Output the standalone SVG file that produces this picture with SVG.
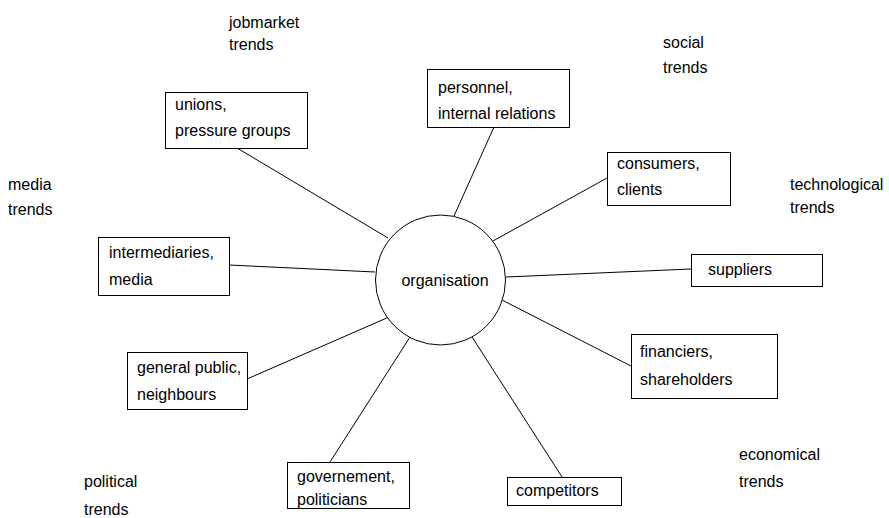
<svg xmlns="http://www.w3.org/2000/svg" width="889" height="518" viewBox="0 0 889 518">
<style>
text{font-family:"Liberation Sans",Arial,sans-serif;font-size:16px;fill:#000}
.box{fill:#fff;stroke:#000;stroke-width:1}
.conn line{stroke:#000;stroke-width:1}
</style>
<rect width="889" height="518" fill="#fff"/>
<g id="connectors" class="conn">
<line x1="237" y1="148" x2="388" y2="238"/>
<line x1="494" y1="127" x2="454" y2="216"/>
<line x1="607" y1="178" x2="493" y2="241"/>
<line x1="691" y1="269" x2="506" y2="277"/>
<line x1="631" y1="366" x2="502" y2="300"/>
<line x1="562" y1="477" x2="472" y2="337"/>
<line x1="330" y1="462" x2="410" y2="337"/>
<line x1="247" y1="379" x2="389" y2="317"/>
<line x1="229" y1="265" x2="375" y2="272"/>
</g>
<g id="organisation">
<circle cx="440.5" cy="280" r="65" fill="#fff" stroke="#000"/>
<text x="445" y="286" text-anchor="middle">organisation</text>
</g>
<g id="unions">
<rect class="box" x="165.5" y="92.5" width="142" height="56"/>
<text x="175" y="110">unions,</text>
<text x="175" y="136">pressure groups</text>
</g>
<g id="personnel">
<rect class="box" x="427.5" y="69.5" width="142" height="58"/>
<text x="438" y="93">personnel,</text>
<text x="438" y="119">internal relations</text>
</g>
<g id="consumers">
<rect class="box" x="607.5" y="152.5" width="123" height="53"/>
<text x="617" y="169">consumers,</text>
<text x="617" y="195">clients</text>
</g>
<g id="suppliers">
<rect class="box" x="691.5" y="254.5" width="131" height="32"/>
<text x="708" y="275">suppliers</text>
</g>
<g id="financiers">
<rect class="box" x="631.5" y="334.5" width="146" height="64"/>
<text x="640" y="357">financiers,</text>
<text x="640" y="385">shareholders</text>
</g>
<g id="competitors">
<rect class="box" x="507.5" y="477.5" width="114" height="28"/>
<text x="516" y="496">competitors</text>
</g>
<g id="governement">
<rect class="box" x="287.5" y="462.5" width="122" height="46"/>
<text x="297" y="482">governement,</text>
<text x="297" y="505">politicians</text>
</g>
<g id="general-public">
<rect class="box" x="127.5" y="352.5" width="120" height="57"/>
<text x="137" y="373">general public,</text>
<text x="137" y="400">neighbours</text>
</g>
<g id="intermediaries">
<rect class="box" x="98.5" y="237.5" width="131" height="58"/>
<text x="109" y="258">intermediaries,</text>
<text x="109" y="285">media</text>
</g>
<g id="trends">
<text x="229" y="28">jobmarket</text>
<text x="229" y="50">trends</text>
<text x="663" y="48">social</text>
<text x="663" y="73">trends</text>
<text x="8" y="190">media</text>
<text x="8" y="215">trends</text>
<text x="790" y="190">technological</text>
<text x="790" y="213">trends</text>
<text x="739" y="460">economical</text>
<text x="739" y="487">trends</text>
<text x="84" y="487">political</text>
<text x="84" y="515">trends</text>
</g>
</svg>
